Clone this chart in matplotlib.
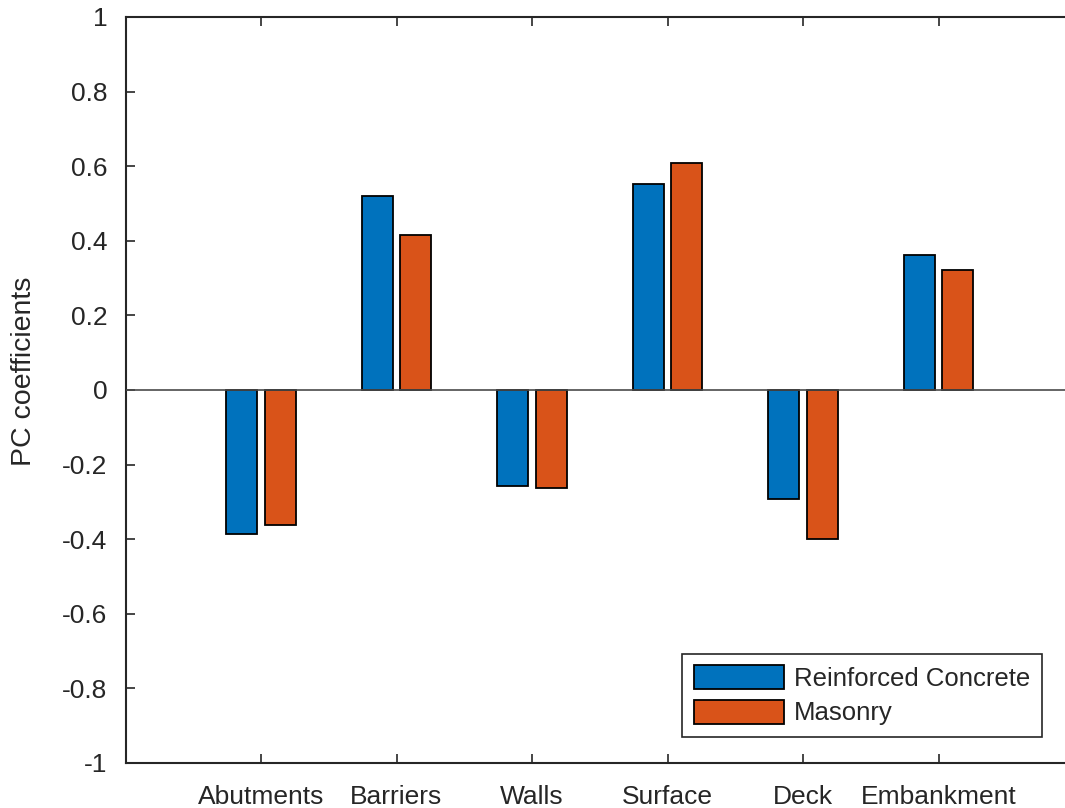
import matplotlib
matplotlib.use("Agg")
from matplotlib import pyplot as plt
import numpy as np

# categories and PC coefficients
categories = ["Abutments", "Barriers", "Walls", "Surface", "Deck", "Embankment"]
concrete = [-0.386, 0.521, -0.257, 0.551, -0.292, 0.363]
masonry = [-0.362, 0.416, -0.263, 0.608, -0.399, 0.323]
series_names = ["Reinforced Concrete", "Masonry"]
yticks = [-1, -0.8, -0.6, -0.4, -0.2, 0, 0.2, 0.4, 0.6, 0.8, 1]
ytick_labels = ["-1", "-0.8", "-0.6", "-0.4", "-0.2", "0", "0.2", "0.4", "0.6", "0.8", "1"]

plt.rcParams['font.family'] = ['Liberation Sans', 'DejaVu Sans']
text_col = "#262626"

fig = plt.figure(figsize=(10.65, 8.08), dpi=100)
W, H = 1065.0, 808.0
# right edge of the axes is just outside the picture, like the reference
ax = fig.add_axes([125.5 / W, 1 - 763 / H, 948.5 / W, (763 - 17) / H])

x = np.arange(1, len(categories) + 1)
w = 0.229
off = 0.143
ax.bar(x - off, concrete, w, color="#0072BD", edgecolor="black", linewidth=1.3,
       label=series_names[0], zorder=2)
ax.bar(x + off, masonry, w, color="#D95319", edgecolor="black", linewidth=1.3,
       label=series_names[1], zorder=2)
ax.axhline(0, color="#4a4a4a", linewidth=1.2, zorder=3)

ax.set_xlim(0, 7)
ax.set_ylim(-1, 1)
ax.set_xticks(x)
ax.set_xticklabels(categories)
ax.set_yticks(yticks)
ax.set_yticklabels(ytick_labels)
ax.tick_params(direction="in", length=6.5, width=1.2, colors=text_col,
               labelsize=19, top=True, right=True, pad=13)
ax.tick_params(axis="x", pad=16)
for s in ax.spines.values():
    s.set_color(text_col)
    s.set_linewidth(1.5)

ax.set_ylabel("PC coefficients", fontsize=20.5, color=text_col)
ax.yaxis.set_label_coords(-0.093, 0.525)

leg = ax.legend(loc="lower right", bbox_to_anchor=(1042 / W, 1 - 737 / H),
                bbox_transform=fig.transFigure, borderaxespad=0, fontsize=18.5,
                handlelength=3.5, handleheight=1.05, handletextpad=0.4,
                labelspacing=0.35, borderpad=0.45, fancybox=False,
                framealpha=1, edgecolor=text_col)
leg.get_frame().set_linewidth(1.2)
for t in leg.get_texts():
    t.set_color(text_col)

fig.savefig("out.png", dpi=100)
